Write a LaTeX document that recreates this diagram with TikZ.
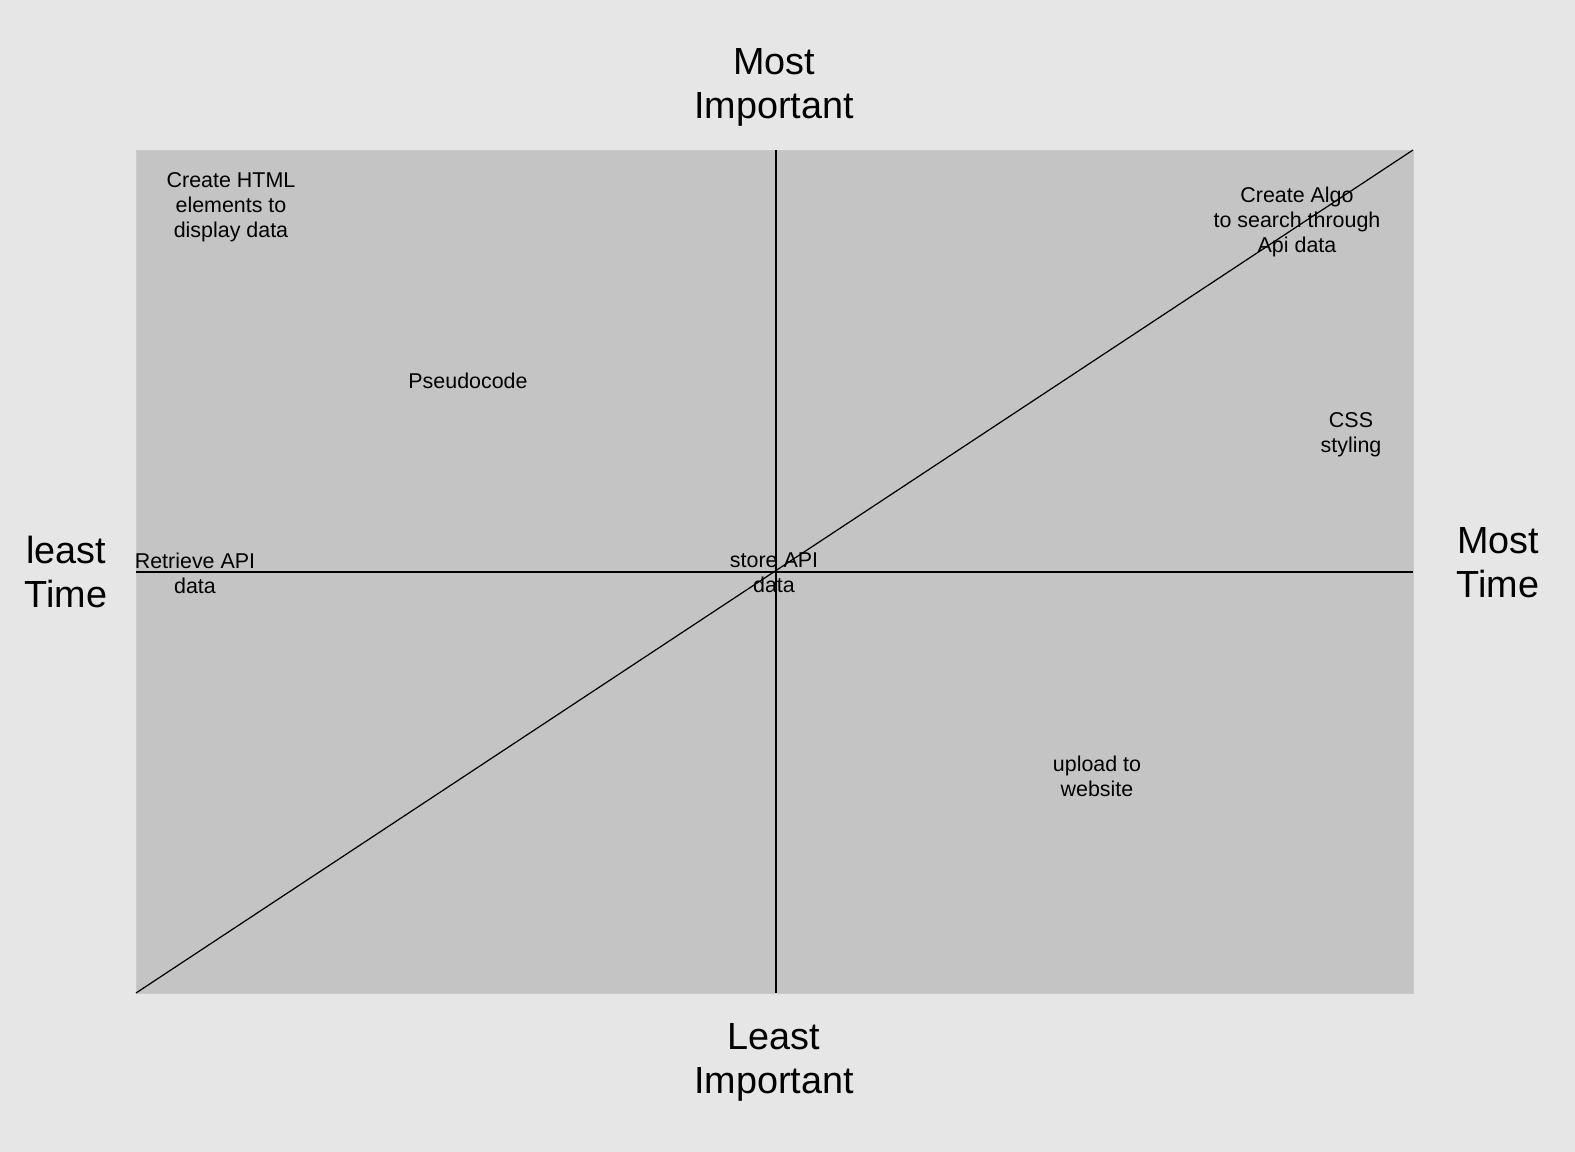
\documentclass[tikz,border=0pt]{standalone}
\usepackage{fontspec}
\setmainfont{Liberation Sans}
\definecolor{pagebg}{HTML}{E6E6E6}
\definecolor{boxbg}{HTML}{C4C4C4}
\tikzset{
    task/.style={align=center, font=\fontsize{12.2}{14.2}\selectfont, inner sep=0pt},
    axislabel/.style={align=center, font=\fontsize{21.5}{25}\selectfont, inner sep=0pt}
}
\begin{document}
\begin{tikzpicture}[x=0.02cm, y=-0.02cm]
    \fill[pagebg] (0,0) rectangle (1575,1152);
    \useasboundingbox (0,0) rectangle (1575,1152);
    \coordinate (nw) at (136,150);
    \coordinate (se) at (1413,993);
    \coordinate (sw) at (136,993);
    \coordinate (ne) at (1413,150);
    \coordinate (top) at (776,150);
    \coordinate (bot) at (776,993);
    \coordinate (left) at (136,572);
    \coordinate (right) at (1413,572);
    \fill[boxbg, draw=boxbg!90!white] (nw) rectangle (se);
    \draw[black, line width=0.7pt] (top) -- (bot);
    \draw[black, line width=0.7pt] (left) -- (right);
    \draw[black, line width=0.7pt] (sw) -- (ne);
    % axis labels
    \node[axislabel] (mostimp) at (774,87.5) {Most\\Important};
    \node[axislabel] (leastimp) at (774,1062.5) {Least\\Important};
    \node[axislabel] (leasttime) at (66,572) {least\\Time};
    \node[axislabel] (mosttime) at (1498,563) {Most\\Time};
    % tasks
    \node[task] (html) at (231,207) {Create HTML\\elements to\\display data};
    \node[task] (algo) at (1297,222) {Create Algo\\to search through\\Api data};
    \node[task] (pseudo) at (468,381) {Pseudocode};
    \node[task] (css) at (1351,435) {CSS\\styling};
    \node[task] (retrieve) at (195,573) {Retrieve API\\data};
    \node[task] (store) at (774,573) {store API\\data};
    \node[task] (upload) at (1097,776) {upload to\\website};
\end{tikzpicture}
\end{document}
